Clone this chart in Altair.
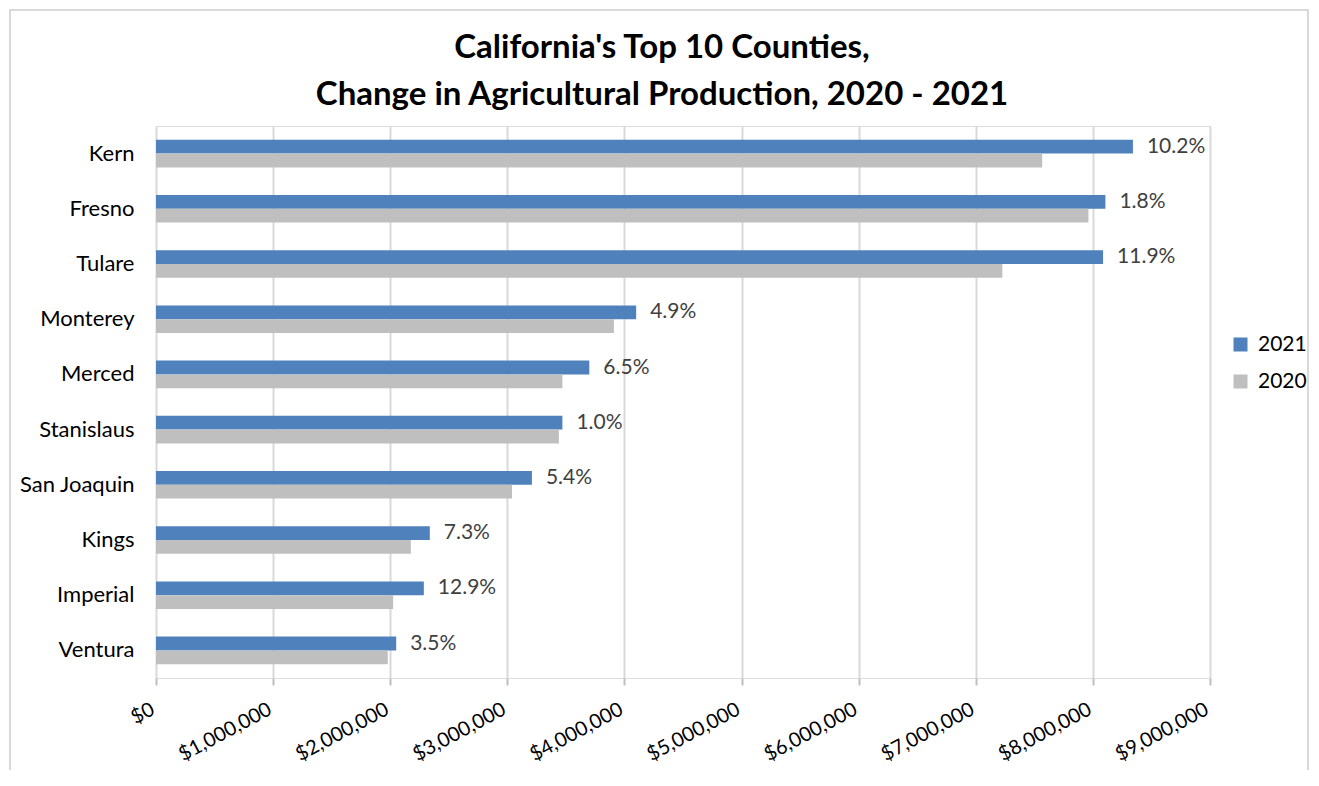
import altair as alt
import pandas as pd

counties = ["Kern", "Fresno", "Tulare", "Monterey", "Merced", "Stanislaus",
            "San Joaquin", "Kings", "Imperial", "Ventura"]
values_2021 = [8342000, 8107000, 8087000, 4100000, 3700000, 3470000,
               3210000, 2338000, 2287000, 2051000]
values_2020 = [7567000, 7962000, 7227000, 3910000, 3470000, 3440000,
               3040000, 2176000, 2025000, 1979000]
pct_labels = ["10.2%", "1.8%", "11.9%", "4.9%", "6.5%", "1.0%",
              "5.4%", "7.3%", "12.9%", "3.5%"]
years = ["2021", "2020"]
x_ticks = [0, 1000000, 2000000, 3000000, 4000000, 5000000, 6000000,
           7000000, 8000000, 9000000]
title_lines = ["California's Top 10 Counties,",
               "Change in Agricultural Production, 2020 - 2021"]

BLUE = "#4F81BD"
GRAY = "#BFBFBF"
FONT = "Lato"

rows = []
for c, v21, v20 in zip(counties, values_2021, values_2020):
    rows.append({"county": c, "year": "2021", "value": v21})
    rows.append({"county": c, "year": "2020", "value": v20})
df = pd.DataFrame(rows)
lab = pd.DataFrame({"county": counties, "year": ["2021"] * len(counties),
                    "value": values_2021, "pct": pct_labels})

y_enc = alt.Y("county:N", sort=counties,
              scale=alt.Scale(paddingInner=0.5, paddingOuter=0.25),
              axis=alt.Axis(title=None, domain=False, ticks=False,
                            labelFontSize=22, labelColor="#000000",
                            labelFont=FONT, labelPadding=22))
x_enc = alt.X("value:Q", scale=alt.Scale(domain=[0, 9000000], nice=False),
              axis=alt.Axis(title=None, values=x_ticks, domain=False,
                            labelExpr='"$" + format(datum.value, ",")',
                            labelAngle=-28, labelFontSize=20,
                            labelColor="#000000", labelFont=FONT,
                            labelPadding=14, labelOffset=-8,
                            tickSize=7, tickColor=GRAY,
                            tickWidth=2, grid=True, gridColor="#D9D9D9",
                            gridWidth=2))
yoff = alt.YOffset("year:N", sort=years)

bars = alt.Chart(df).mark_bar().encode(
    x=x_enc,
    y=y_enc,
    yOffset=yoff,
    color=alt.Color("year:N",
                    scale=alt.Scale(domain=years, range=[BLUE, GRAY]),
                    legend=alt.Legend(title=None, orient="none",
                                      legendX=1074, legendY=208,
                                      symbolType="square", symbolSize=196,
                                      symbolStrokeWidth=0, labelFontSize=21,
                                      labelFont=FONT, labelColor="#000000",
                                      labelOffset=7, rowPadding=15)),
)

texts = alt.Chart(lab).mark_text(align="left", baseline="middle", dx=14,
                                 fontSize=21, font=FONT, color="#404040").encode(
    x="value:Q",
    y=alt.Y("county:N", sort=counties),
    yOffset=yoff,
    text="pct:N",
)

one = pd.DataFrame({"a": [0]})
frame = alt.Chart(one).mark_rect(
    filled=False, stroke="#D9D9D9", strokeWidth=2, clip=False
).encode(x=alt.value(-146), x2=alt.value(1152), y=alt.value(-116), y2=alt.value(720))

title1 = alt.Chart(one).mark_text(
    text=title_lines[0], fontSize=33, font=FONT, fontWeight="bold",
    color="#000000", align="center", baseline="alphabetic"
).encode(x=alt.value(506), y=alt.value(-68))
title2 = alt.Chart(one).mark_text(
    text=title_lines[1], fontSize=33, font=FONT, fontWeight="bold",
    color="#000000", align="center", baseline="alphabetic"
).encode(x=alt.value(506), y=alt.value(-21))

chart = alt.layer(frame, bars, texts, title1, title2).properties(
    width=1054, height=552,
    autosize="none",
    padding={"left": 148, "top": 118, "right": 100, "bottom": 92},
).configure_view(stroke="#BDBDBD", strokeWidth=3).configure(background="white")

chart.save("out.html", embed_options={"renderer": "svg", "actions": False})
